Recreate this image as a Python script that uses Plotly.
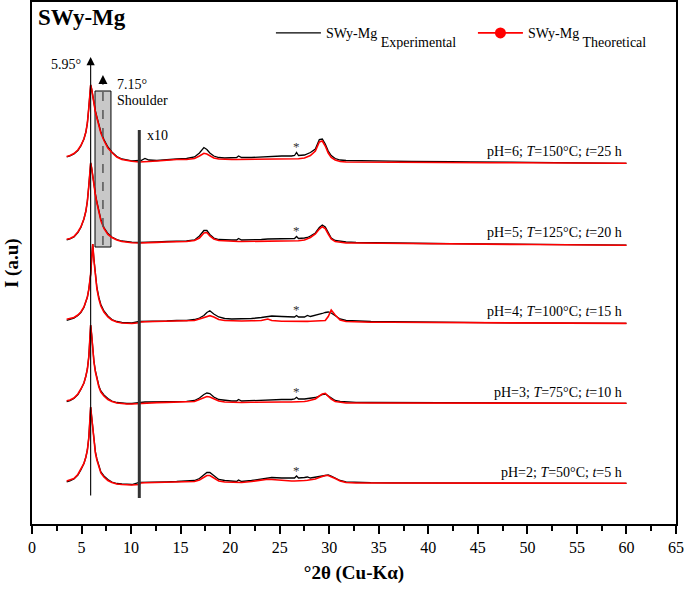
import plotly.graph_objects as go

# ---------------- data ----------------
# 2-theta grid of the low-angle part (shown at x1) and of the x10 part
two_theta_low = [3.5, 3.83, 4.23, 4.63, 4.93, 5.24, 5.44, 5.59, 5.74, 5.84, 5.92, 6.02, 6.13, 6.25,
                 6.4, 6.55, 6.75, 6.95, 7.26, 7.66, 8.06, 8.56, 9.07, 9.57, 10.08, 10.83]
two_theta_x10 = [11.0, 11.4, 11.8, 12.6, 13.6, 14.6, 15.6, 16.4, 16.9, 17.35,
                 17.65, 17.95, 18.35, 18.85, 19.45, 20.15, 20.65, 20.85, 21.15, 22.15,
                 23.15, 23.8, 24.2, 25.2, 26.2, 26.5, 26.7, 26.9, 27.5, 27.8,
                 28.1, 28.6, 29.0, 29.3, 29.6, 29.9, 30.2, 30.6, 31.1, 31.7,
                 32.7, 34.2, 36.3, 38.3, 40.3, 42.3, 44.3, 46.3, 48.4, 50.4,
                 52.4, 54.4, 56.4, 58.4, 60]

# vertical stacking offsets (a.u.), top pattern first
pattern_offsets = [362, 281, 202, 121, 41]
pattern_labels = ["pH=6; <i>T</i>=150°C; <i>t</i>=25 h",
                  "pH=5; <i>T</i>=125°C; <i>t</i>=20 h",
                  "pH=4; <i>T</i>=100°C; <i>t</i>=15 h",
                  "pH=3; <i>T</i>=75°C; <i>t</i>=10 h",
                  "pH=2; <i>T</i>=50°C; <i>t</i>=5 h"]
star_peak_2theta = 26.7

# pH=6
ph6_exp_low = [5, 6, 8, 11.5, 16, 23, 30, 39, 55, 70, 77, 73, 66, 58.5, 51, 45, 37, 30, 22.5, 15, 10, 5.5, 3, 2, 1.2, 1.5]
ph6_theo_low = [5.5, 6.5, 8.5, 12, 16.5, 23, 30, 39, 55, 70, 77, 73, 66, 58, 50, 44, 36, 29, 21.5, 14, 9.5, 5, 2.5, 1.5, 0.8, 0]
ph6_exp_x10 = [1.5, 3.5, 2, 1.5, 2.5, 3, 3.5, 5, 9, 14.5,
               12.5, 9, 6, 4.5, 4, 4, 4.5, 6, 4.5, 4.5,
               5, 5.5, 6, 6, 6, 6.5, 9.5, 6.5, 7, 8,
               9.5, 13, 22.5, 23, 18, 11, 6.5, 3.5, 2, 1.5,
               1.2, 1, 0.8, 0.5, 0.6, 0.3, 0, 0.2, -0.2, -0.4,
               -0.5, -0.6, -1, -1, -1.3]
ph6_theo_x10 = [0, 0.5, 0.5, 1, 2, 2.5, 2.5, 3.5, 6, 8.7,
                8, 6, 4, 3, 2.5, 2.5, 2.5, 2.5, 2.5, 2.5,
                2.5, 2.8, 3, 3, 3, 3, 3, 3.2, 4, 5,
                6.5, 11, 20, 21, 16, 9, 4.5, 2, 0.5, 0,
                0, 0, -0.2, -0.3, -0.4, -0.5, -0.6, -0.7, -0.8, -0.9,
                -1, -1, -1.1, -1.2, -1.3]

# pH=5
ph5_exp_low = [3.2, 4, 6, 10.5, 15.5, 24, 32, 42, 58, 72, 80, 75, 66, 57.5, 49, 41, 32, 23.5, 15.5, 9.5, 6, 3.5, 2, 1.2, 0.8, 0.5]
ph5_theo_low = [3.7, 4.5, 6.5, 11, 16, 24, 32, 42, 58, 72, 80, 75, 66, 57, 48, 40, 31, 22.5, 14.5, 8.5, 5.5, 3, 1.5, 0.8, 0.3, 0]
ph5_exp_x10 = [0.5, 0.8, 1, 1, 1.5, 1.5, 2, 3, 7, 12.5,
               12.5, 8.5, 5, 3.5, 3, 3, 3, 4.5, 3, 3,
               3.5, 4, 4, 4, 4, 4.5, 6.5, 4.5, 5, 5.5,
               7, 10, 15.5, 18, 16, 10, 5, 2.5, 1.5, 1,
               0.5, 0.2, 0, -0.3, -0.5, -0.6, -0.8, -1, -1.1, -1.3,
               -1.5, -1.6, -1.8, -2, -2.2]
ph5_theo_x10 = [0, 0.2, 0.4, 0.6, 1, 1.2, 1.5, 2.5, 5, 10,
                10.5, 7, 4, 2.5, 2, 1.5, 1.5, 1.5, 1.5, 1.5,
                1.8, 2, 2, 2, 2, 2, 2, 2.2, 3, 4,
                5.5, 9, 14, 16.3, 14.5, 9, 4, 1.5, 0.5, 0,
                0, -0.2, -0.4, -0.6, -0.8, -1, -1.1, -1.3, -1.4, -1.5,
                -1.6, -1.7, -1.8, -2, -2.2]

# pH=4
ph4_exp_low = [1.7, 2.4, 3.8, 6.5, 9.5, 14.5, 19.5, 25, 33, 40, 48, 63, 78, 63, 45.5, 34.5, 24.5, 17.5, 11, 6, 2.5, 0.5, -0.5, -1, -1, 0.5]
ph4_theo_low = [2.7, 3.2, 4.5, 7, 10, 15, 20, 25, 33, 40, 48, 63, 78, 62, 44, 33, 23, 16, 10, 5, 2, 0, -1, -1.5, -1.5, -0.7]
ph4_exp_x10 = [0.5, 1, 0.5, 1, 1, 1.5, 1.5, 2.5, 4, 6.5,
               9.5, 11.3, 8, 5, 3.5, 3, 3, 3.5, 3, 3.5,
               4.5, 5.5, 6, 5.5, 5, 5, 6.5, 5, 5, 6.5,
               5.5, 6.5, 7.5, 8.5, 9.5, 10, 9, 6, 3, 1.5,
               1, 0.5, 0.3, 0, -0.2, -0.3, -0.5, -0.6, -0.8, -0.9,
               -1, -1.1, -1.2, -1.3, -1.4]
ph4_theo_x10 = [0, 0.2, 0.3, 0.5, 0.7, 1, 1.2, 1.5, 3, 4.5,
                6, 6.3, 5, 2.5, 1.5, 1, 1, 1, 1, 1.2,
                1.5, 3, 1.5, 0.8, 0.5, 0.5, 0.5, 0.5, 0.5, 0.6,
                0.7, 0.8, 0.9, 1, 1.5, 5.5, 12, 7, 2, 0.5,
                0, -0.2, -0.3, -0.4, -0.5, -0.6, -0.7, -0.8, -0.9, -1,
                -1.1, -1.2, -1.3, -1.4, -1.4]

# pH=3
ph3_exp_low = [1.5, 2.3, 4.5, 8.5, 13.5, 20, 27, 34, 47, 65, 78, 68.5, 55, 42, 32, 25, 17, 12, 8, 4.5, 2, 0.5, -0.3, -0.5, -0.5, 0.7]
ph3_theo_low = [2.3, 3, 5, 9, 14, 20, 27, 34, 47, 65, 78, 68, 54, 41, 31, 24, 16, 11, 7, 3.5, 1.5, 0, -0.7, -1, -1, -0.5]
ph3_exp_x10 = [0.7, 1, 1, 1, 1.2, 1.5, 1.7, 2.5, 5, 8.5,
               10, 9.5, 6, 3.5, 2.5, 2, 2, 3.5, 2, 2.5,
               3, 3.5, 3.5, 3.5, 3.5, 4, 5.7, 4, 4, 4.5,
               4.5, 5.5, 7, 8.5, 9, 7, 4.5, 2.5, 1.5, 1,
               0.7, 0.5, 0.4, 0.3, 0.2, 0.1, 0, 0, -0.1, -0.1,
               -0.2, -0.2, -0.3, -0.3, -0.3]
ph3_theo_x10 = [0, 0.2, 0.3, 0.4, 0.6, 0.8, 1, 1.5, 3.5, 5.5,
                6.5, 6, 4, 2, 1, 0.5, 0.5, 0.5, 0.5, 0.7,
                1, 1, 1, 1, 1, 1, 1, 1, 1.5, 2,
                2.5, 4, 7, 9, 9.7, 7, 4, 1.5, 0.5, 0,
                0, 0, 0, -0.1, -0.1, -0.2, -0.2, -0.2, -0.3, -0.3,
                -0.3, -0.3, -0.3, -0.3, -0.3]

# pH=2
ph2_exp_low = [1.2, 2, 4, 8, 13, 19.5, 26, 33, 46, 63, 76, 66.5, 54, 41, 31, 24, 16, 11, 7, 3.5, 1, -0.5, -1, -1.5, -1.5, 0.7]
ph2_theo_low = [2, 2.8, 4.5, 8.5, 13.5, 19.5, 26, 33, 46, 63, 76, 66, 53, 40, 30, 23, 15, 10, 6, 2.5, 0.5, -1, -1.5, -2, -2, -1.5]
ph2_exp_x10 = [0.7, 1, 1, 1, 1.2, 1.5, 1.7, 2.5, 4.5, 8.5,
               10.5, 10.5, 7, 3.5, 2.5, 1.5, 1.5, 3, 1.5, 2.5,
               4, 5, 5.5, 5, 5, 5, 7, 5, 5.5, 6,
               5, 5.5, 6.5, 7, 7.5, 8, 7, 5, 2.5, 1,
               0.5, 0.3, 0.2, 0.1, 0, 0, -0.1, -0.1, -0.2, -0.2,
               -0.2, -0.3, -0.3, -0.3, -0.3]
ph2_theo_x10 = [0, 0.2, 0.3, 0.4, 0.6, 0.8, 1, 1.5, 3, 6,
                7.5, 7.5, 5, 2, 1, 0.5, 0.5, 0.5, 0.5, 1.5,
                3, 3.7, 3.5, 2.5, 2, 2, 2, 2, 2.5, 2.8,
                3, 4, 5.5, 6.5, 7.5, 7.5, 6.5, 4.5, 2, 0.5,
                0, 0, 0, -0.1, -0.1, -0.2, -0.2, -0.2, -0.3, -0.3,
                -0.3, -0.3, -0.3, -0.3, -0.3]

exp_series = [(ph6_exp_low, ph6_exp_x10), (ph5_exp_low, ph5_exp_x10), (ph4_exp_low, ph4_exp_x10),
              (ph3_exp_low, ph3_exp_x10), (ph2_exp_low, ph2_exp_x10)]
theo_series = [(ph6_theo_low, ph6_theo_x10), (ph5_theo_low, ph5_theo_x10), (ph4_theo_low, ph4_theo_x10),
               (ph3_theo_low, ph3_theo_x10), (ph2_theo_low, ph2_theo_x10)]

# reference marks
main_peak_2theta = 5.92
shoulder_2theta = 7.16
shoulder_box = (6.36, 7.97)
x10_break = 10.83

# ---------------- figure ----------------
FONT = "Liberation Serif, Times New Roman, serif"
fig = go.Figure()

x_all = two_theta_low + two_theta_x10
for off, (el, eh), (tl, th) in zip(pattern_offsets, exp_series, theo_series):
    fig.add_trace(go.Scatter(x=x_all, y=[off + v for v in el + eh], mode="lines",
                             line=dict(color="#000000", width=1.3), showlegend=False, hoverinfo="skip"))
    fig.add_trace(go.Scatter(x=x_all, y=[off + v for v in tl + th], mode="lines",
                             line=dict(color="#ff0000", width=1.6), showlegend=False, hoverinfo="skip"))

# legend entries (subscript kept at full size, shifted below the baseline)
SUB = "<span style='baseline-shift:-9px'>%s</span>"
fig.add_trace(go.Scatter(x=[None], y=[None], mode="lines", line=dict(color="black", width=1.3),
                         name="SWy-Mg " + SUB % "Experimental"))
fig.add_trace(go.Scatter(x=[None], y=[None], mode="lines+markers", line=dict(color="red", width=1.6),
                         marker=dict(color="red", size=11), name="SWy-Mg " + SUB % "Theoretical"))

top = pattern_offsets[0]
bottom = pattern_offsets[-1]

shapes = [
    dict(type="rect", xref="x", yref="y", x0=shoulder_box[0], x1=shoulder_box[1],
         y0=bottom + 236, y1=top + 71, fillcolor="#c8c8c8", line=dict(color="black", width=1), layer="below"),
    dict(type="line", xref="x", yref="y", x0=shoulder_2theta, x1=shoulder_2theta,
         y0=bottom + 238, y1=top + 77, line=dict(color="#555555", width=1.5, dash="dash")),
    dict(type="line", xref="x", yref="y", x0=x10_break, x1=x10_break,
         y0=bottom - 15, y1=top + 32, line=dict(color="#333333", width=3)),
]

annotations = [
    dict(x=main_peak_2theta, y=top + 105, ax=main_peak_2theta, ay=bottom - 14, xref="x", yref="y",
         axref="x", ayref="y", text="", showarrow=True, arrowhead=2, arrowsize=1.5,
         arrowwidth=1.1, arrowcolor="black", standoff=0),
    dict(x=shoulder_2theta, y=top + 87, ax=shoulder_2theta, ay=top + 76, xref="x", yref="y",
         axref="x", ayref="y", text="", showarrow=True, arrowhead=2, arrowsize=1.2,
         arrowwidth=1.5, arrowcolor="black", standoff=0),
    dict(x=5.15, y=top + 98, xref="x", yref="y", text="5.95°", showarrow=False, xanchor="right",
         font=dict(family=FONT, size=14, color="black")),
    dict(x=8.38, y=top + 78, xref="x", yref="y", text="7.15°", showarrow=False, xanchor="left",
         font=dict(family=FONT, size=14, color="black")),
    dict(x=8.38, y=top + 62, xref="x", yref="y", text="Shoulder", showarrow=False, xanchor="left",
         font=dict(family=FONT, size=14, color="black")),
    dict(x=11.4, y=top + 27, xref="x", yref="y", text="x10", showarrow=False, xanchor="left",
         font=dict(family=FONT, size=14, color="black")),
    dict(x=0.4, y=0.998, xref="x", yref="paper", text="<b>SWy-Mg</b>", showarrow=False,
         xanchor="left", yanchor="top", font=dict(family=FONT, size=23, color="black")),
    dict(x=-0.031, y=0.5, xref="paper", yref="paper", text="<b>I (a.u)</b>", showarrow=False,
         textangle=-90, xanchor="center", yanchor="middle",
         font=dict(family=FONT, size=19, color="black")),
]

star_vals = [ph6_exp_x10, ph5_exp_x10, ph4_exp_x10, ph3_exp_x10, ph2_exp_x10]
star_idx = two_theta_x10.index(star_peak_2theta)
for off, lab, sv in zip(pattern_offsets, pattern_labels, star_vals):
    annotations.append(dict(x=59.8, y=off + 11, xref="x", yref="y", text=lab, showarrow=False,
                            xanchor="right", font=dict(family=FONT, size=14, color="black")))
    annotations.append(dict(x=star_peak_2theta, y=off + sv[star_idx] + 6, xref="x", yref="y", text="*",
                            showarrow=False, font=dict(family=FONT, size=13, color="#333333")))

fig.update_layout(
    width=685, height=594,
    margin=dict(l=32, r=9, t=2, b=70, autoexpand=False),
    plot_bgcolor="white", paper_bgcolor="white",
    shapes=shapes, annotations=annotations,
    legend=dict(orientation="h", x=0.371, y=0.94, xanchor="left", yanchor="middle",
                font=dict(family=FONT, size=14, color="black"), bgcolor="rgba(0,0,0,0)",
                itemwidth=45, entrywidth=142, entrywidthmode="pixels"),
    xaxis=dict(range=[0, 65], tickmode="array", tickvals=list(range(0, 66, 5)),
               ticks="outside", ticklen=8, tickwidth=1.5, tickcolor="black",
               minor=dict(dtick=2.5, tick0=0, ticks="outside", ticklen=5, tickwidth=1.5, tickcolor="black"),
               showgrid=False, zeroline=False, showline=True, linewidth=2, linecolor="black",
               mirror=True, tickfont=dict(family=FONT, size=16, color="black"),
               automargin=False, ticklabeloverflow="allow",
               title=dict(text="<b>°2θ (Cu-Kα)</b>", font=dict(family=FONT, size=19, color="black"),
                          standoff=10)),
    yaxis=dict(range=[0, 522], showticklabels=False, ticks="", showgrid=False, zeroline=False,
               showline=True, linewidth=2, linecolor="black", mirror=True, automargin=False),
)

fig.write_html("out.html", config={"displayModeBar": False},
               post_script="document.body.style.margin='0';")
